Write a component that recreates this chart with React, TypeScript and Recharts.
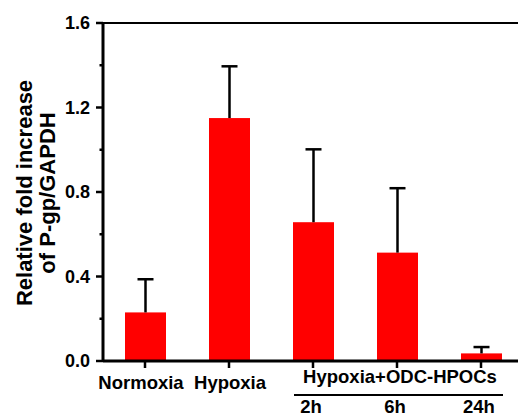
import { BarChart, Bar, XAxis, YAxis, ReferenceLine } from "recharts";

const categories = ["Normoxia", "Hypoxia", "2h", "6h", "24h"];
const meanValues = [0.23, 1.15, 0.657, 0.513, 0.036];
const sdValues = [0.157, 0.245, 0.345, 0.305, 0.03];
const yTicks = [0, 0.2, 0.4, 0.6, 0.8, 1.0, 1.2, 1.4, 1.6];
const majorTicks = [0, 0.4, 0.8, 1.2, 1.6];
const groupedCategories = ["2h", "6h", "24h"];
const groupLabel = "Hypoxia+ODC-HPOCs";
const yTitleLines = ["Relative fold increase", "of P-gp/GAPDH"];

const data = categories.map((name, i) => ({ name, value: meanValues[i], sd: sdValues[i] }));

const FONT = '"Liberation Sans", Arial, Helvetica, sans-serif';

// bar + upward-only error bar (pixels per unit taken from the bar itself)
const BarWithError = (props: any) => {
  const { x, y, width, height, payload } = props;
  const perUnit = payload.value ? height / payload.value : 0;
  const cx = x + width / 2;
  const top = y - payload.sd * perUnit;
  return (
    <g>
      <rect x={x} y={y} width={width} height={height} fill="#ff0000" />
      <line x1={cx} y1={y} x2={cx} y2={top} stroke="#000" strokeWidth={2.5} />
      <line x1={cx - 8} y1={top} x2={cx + 8} y2={top} stroke="#000" strokeWidth={2.5} />
    </g>
  );
};

const YTick = (props: any) => {
  const { x, y, payload } = props;
  const major = majorTicks.includes(payload.value);
  return (
    <g>
      <line x1={x - (major ? 7 : 3.5)} y1={y} x2={x} y2={y} stroke="#000" strokeWidth={2.5} />
      {major && (
        <text x={x - 13} y={y} dy="0.36em" textAnchor="end" fontSize={18} fontWeight="bold" fontFamily={FONT} fill="#000">
          {payload.value.toFixed(1)}
        </text>
      )}
    </g>
  );
};

const XTick = (props: any) => {
  const { x, y, payload } = props;
  const grouped = groupedCategories.includes(payload.value);
  const dx = payload.value === "Normoxia" ? -4 : payload.value === "Hypoxia" ? 1 : -2;
  const isMiddle = payload.value === groupedCategories[1];
  return (
    <g>
      <line x1={x} y1={y} x2={x} y2={y + 7} stroke="#000" strokeWidth={2.5} />
      <text x={x + dx} y={y + (grouped ? 52 : 28)} textAnchor="middle" fontSize={18.5} fontWeight="bold" fontFamily={FONT} fill="#000">
        {payload.value}
      </text>
      {isMiddle && (
        <g>
          <text x={x + 3} y={y + 22} textAnchor="middle" fontSize={18.5} fontWeight="bold" fontFamily={FONT} fill="#000">
            {groupLabel}
          </text>
          <line x1={x - 103} y1={y + 34} x2={x + 106} y2={y + 34} stroke="#000" strokeWidth={2} />
        </g>
      )}
    </g>
  );
};

const YTitle = (props: any) => {
  const vb = props.viewBox || { y: 23, height: 338 };
  const cy = vb.y + vb.height / 2 + 1;
  const xs = [32, 55];
  return (
    <g>
      {yTitleLines.map((t, i) => (
        <text
          key={t}
          x={xs[i]}
          y={cy}
          transform={`rotate(-90, ${xs[i]}, ${cy})`}
          textAnchor="middle"
          fontSize={22}
          fontWeight="bold"
          fontFamily={FONT}
          fill="#000"
        >
          {t}
        </text>
      ))}
    </g>
  );
};

export default function App() {
  return (
    <div style={{ position: "absolute", left: 0, top: 0, width: 518, height: 417, overflow: "hidden", background: "#fff" }}>
      <BarChart width={523} height={417} data={data} margin={{ top: 23, right: 0, bottom: 0, left: 0 }}>
        <XAxis
          dataKey="name"
          height={56}
          interval={0}
          tickLine={false}
          tickSize={0}
          tickMargin={0}
          axisLine={{ stroke: "#000", strokeWidth: 3 }}
          tick={<XTick />}
        />
        <YAxis
          width={103}
          domain={[0, 1.6]}
          ticks={yTicks}
          interval={0}
          tickLine={false}
          tickSize={0}
          tickMargin={0}
          axisLine={{ stroke: "#000", strokeWidth: 3 }}
          tick={<YTick />}
          label={{ content: (p: any) => <YTitle {...p} /> }}
        />
        <ReferenceLine y={1.6} stroke="#000" strokeWidth={2} />
        <Bar dataKey="value" barSize={41} isAnimationActive={false} shape={(p: any) => <BarWithError {...p} />} />
      </BarChart>
    </div>
  );
}
